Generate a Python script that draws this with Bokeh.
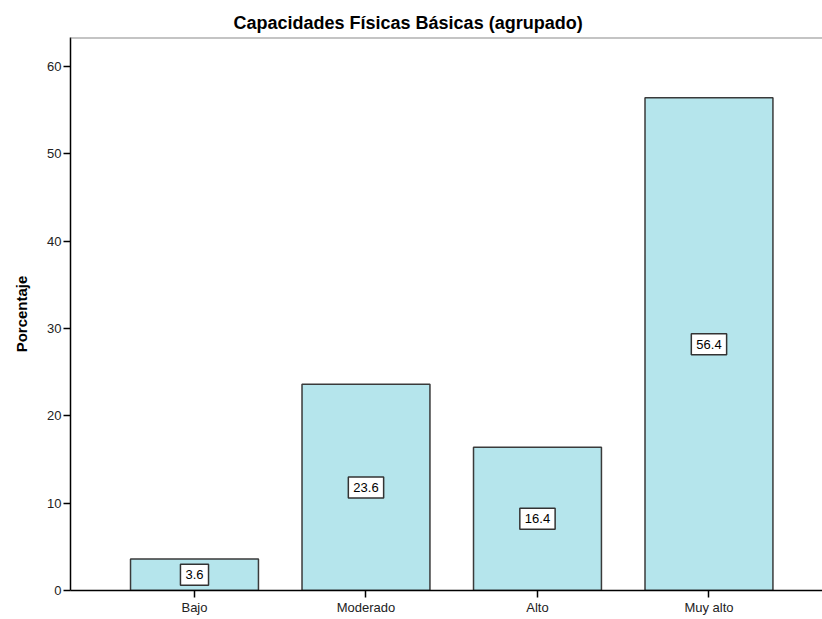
from bokeh.plotting import figure
from bokeh.models import Range1d, FixedTicker, ColumnDataSource, Span
from bokeh.core.properties import value
from bokeh.embed import file_html
from bokeh.resources import INLINE

categories = ["Bajo", "Moderado", "Alto", "Muy alto"]
values = [3.6, 23.6, 16.4, 56.4]
y_ticks = [0, 10, 20, 30, 40, 50, 60]

xs = list(range(len(categories)))
src = ColumnDataSource(dict(
    x=xs, top=values, mid=[v / 2 for v in values],
    lab=["%.1f" % v for v in values]))

p = figure(width=822, height=619, output_backend="svg", toolbar_location=None,
           x_range=Range1d(-0.723, 3.662), y_range=Range1d(0, 63.3),
           min_border_left=70, min_border_right=0, min_border_top=37, min_border_bottom=29)

p.title.text = "Capacidades Físicas Básicas (agrupado)"
p.title.text_font = "Liberation Sans"
p.title.text_font_size = "18px"
p.title.text_font_style = "bold"
p.title.text_color = "#000000"
p.title.align = "left"
p.title.offset = 163

p.vbar(x="x", top="top", width=0.746, source=src, fill_color="#b5e5ec",
       line_color="#3a3a3a", line_width=1.5)

p.text(x="x", y="mid", text="lab", source=src, text_align="center",
       text_baseline="middle", text_font=value("Liberation Sans"), text_font_size="13px",
       text_color="#000000", background_fill_color="#ffffff",
       border_line_color="#333333", border_line_width=1.5,
       padding=dict(left=5, right=5, top=6, bottom=6))

p.xgrid.visible = False
p.ygrid.visible = False
p.outline_line_color = None
p.background_fill_color = "#ffffff"
p.border_fill_color = "#ffffff"

top_line = Span(location=63.3, dimension="width", line_color="#8a8a8a", line_width=2)
p.add_layout(top_line)

p.xaxis.ticker = FixedTicker(ticks=xs)
p.xaxis.major_label_overrides = {i: c for i, c in zip(xs, categories)}
p.yaxis.ticker = FixedTicker(ticks=y_ticks)
for ax in (p.xaxis, p.yaxis):
    ax.axis_line_color = "#000000"
    ax.axis_line_width = 1.5
    ax.major_tick_line_color = "#000000"
    ax.major_tick_line_width = 1.5
    ax.major_tick_in = 0
    ax.major_tick_out = 7
    ax.minor_tick_line_color = None
    ax.major_label_text_font = "Liberation Sans"
    ax.major_label_text_font_size = "13px"
    ax.major_label_text_color = "#222222"
    ax.major_label_standoff = 2

p.yaxis.axis_label = "Porcentaje"
p.yaxis.axis_label_text_font = "Liberation Sans"
p.yaxis.axis_label_text_font_size = "15px"
p.yaxis.axis_label_text_font_style = "bold"
p.yaxis.axis_label_text_color = "#000000"
p.yaxis.axis_label_standoff = 14

open("out.html", "w").write(file_html(p, INLINE))
